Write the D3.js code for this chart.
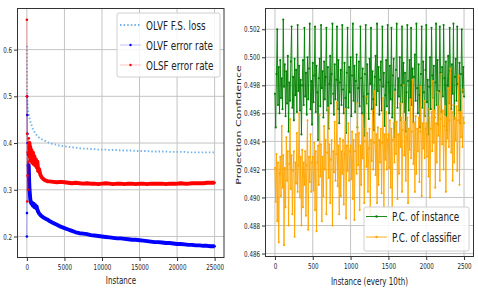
<!DOCTYPE html>
<html><head><meta charset="utf-8">
<script src="https://cdn.jsdelivr.net/npm/d3@7"></script>
<style>body{margin:0;background:#fff}svg{display:block}text{font-family:"DejaVu Sans",sans-serif;fill:#222}</style>
</head><body><svg id="c" width="478" height="288"></svg>
<script>
// ---------- Left chart data ----------
const instL = [0,10,25,50,75,100,150,200,250,300,350,400,450,500,600,700,800,900,1000,1100,1200,1300,1400,1500,1600,1800,2000,2250,2500,2750,3000,
3500,4000,4500,5000,5500,6000,6500,7000,7500,8000,8500,9000,9500,10000,10500,11000,11500,12000,12500,13000,13500,14000,14500,15000,15500,16000,16500,17000,17500,18000,18500,19000,19500,20000,20500,21000,21500,22000,22500,23000,23500,24000,24500,25000];
const fsLoss = [0.608,0.560,0.520,0.495,0.485,0.478,0.470,0.465,0.461,0.457,0.454,0.450,0.447,0.444,0.439,0.434,0.430,0.427,0.424,0.421,0.419,0.417,0.415,0.413,0.412,0.410,0.408,0.406,0.404,0.402,0.400,
0.398,0.396,0.394,0.393,0.392,0.391,0.390,0.389,0.388,0.388,0.387,0.387,0.386,0.386,0.386,0.385,0.385,0.385,0.384,0.384,0.384,0.384,0.383,0.383,0.383,0.383,0.382,0.382,0.382,0.382,0.382,0.381,0.381,0.381,0.381,0.381,0.380,0.380,0.380,0.380,0.380,0.380,0.380,0.380];
const olvfErr = [0.200,0.250,0.500,0.460,0.420,0.400,0.375,0.355,0.350,0.320,0.300,0.290,0.280,0.275,0.270,0.272,0.266,0.270,0.263,0.267,0.261,0.264,0.257,0.253,0.250,0.246,0.243,0.240,0.238,0.236,0.233,
0.229,0.225,0.221,0.218,0.215,0.212,0.209,0.207,0.206,0.205,0.203,0.202,0.201,0.200,0.199,0.198,0.197,0.196,0.196,0.195,0.194,0.193,0.193,0.192,0.191,0.190,0.189,0.188,0.188,0.187,0.186,0.186,0.185,0.184,0.184,0.183,0.182,0.182,0.181,0.181,0.180,0.180,0.179,0.179];
const olsfErr = [0.664,0.500,0.420,0.275,0.330,0.380,0.300,0.360,0.410,0.385,0.400,0.370,0.392,0.362,0.385,0.358,0.380,0.355,0.372,0.352,0.365,0.348,0.360,0.340,0.345,0.332,0.326,0.322,0.320,0.318,0.318,
0.317,0.316,0.317,0.316,0.315,0.314,0.315,0.314,0.313,0.314,0.313,0.313,0.312,0.313,0.314,0.313,0.312,0.313,0.313,0.312,0.313,0.313,0.312,0.313,0.313,0.312,0.313,0.313,0.313,0.313,0.312,0.313,0.313,0.313,0.314,0.313,0.313,0.314,0.314,0.314,0.314,0.315,0.315,0.315];
const xTicksL = [0,5000,10000,15000,20000,25000];
const yTicksL = [0.2,0.3,0.4,0.5,0.6];
const legendL = ["OLVF F.S. loss","OLVF error rate","OLSF error rate"];

// ---------- Right chart data (x = 0..2500, step 10) ----------
const pcInstance = [
0.4974,0.4950,0.4988,0.5020,0.4966,0.4993,0.4960,0.4998,0.4971,0.4985,
0.4963,0.5027,0.4979,0.4995,0.4958,0.4990,0.4967,0.5001,0.4947,0.4982,
0.4969,0.4997,0.5022,0.4964,0.4986,0.4955,0.4999,0.4973,0.4991,0.4961,
0.5023,0.4976,0.4994,0.4962,0.4984,0.4945,0.4980,0.4998,0.4966,0.5021,
0.4972,0.4989,0.4959,0.5000,0.4970,0.4992,0.5024,0.4963,0.4983,0.4952,
0.4996,0.4968,0.4987,0.5022,0.4961,0.4994,0.4975,0.4941,0.4985,0.4999,
0.4965,0.5023,0.4978,0.4990,0.4957,0.4997,0.4970,0.4986,0.5021,0.4962,
0.4993,0.4949,0.4981,0.5001,0.4967,0.4988,0.5024,0.4974,0.4959,0.4995,
0.4970,0.4984,0.5022,0.4963,0.4998,0.4953,0.4982,0.4991,0.4966,0.5023,
0.4977,0.4960,0.4996,0.4971,0.4946,0.4989,0.5021,0.4964,0.4993,0.4975,
0.5000,0.4958,0.4987,0.5024,0.4969,0.4994,0.4961,0.4983,0.5002,0.4950,
0.4978,0.4997,0.4965,0.5022,0.4985,0.4960,0.4992,0.4972,0.4944,0.4988,
0.5023,0.4967,0.4995,0.4974,0.4956,0.4999,0.4981,0.5021,0.4963,0.4990,
0.4970,0.4948,0.4986,0.5001,0.4966,0.5024,0.4976,0.4993,0.4959,0.4984,
0.4997,0.4962,0.5022,0.4979,0.4989,0.4951,0.4973,0.4998,0.4965,0.5023,
0.4982,0.4960,0.4994,0.4970,0.5021,0.4957,0.4987,0.4999,0.4943,0.4977,
0.4991,0.5024,0.4964,0.4985,0.4972,0.5000,0.4955,0.4980,0.5022,0.4968,
0.4996,0.4961,0.4989,0.4947,0.4975,0.5023,0.4983,0.4962,0.4998,0.4971,
0.5021,0.4966,0.4992,0.4954,0.4986,0.5002,0.4969,0.5024,0.4978,0.4960,
0.4995,0.4973,0.4950,0.4988,0.5022,0.4964,0.4997,0.4975,0.4958,0.4991,
0.5023,0.4968,0.4984,0.4945,0.4979,0.5000,0.4963,0.5021,0.4987,0.4971,
0.4994,0.4957,0.4982,0.5024,0.4966,0.4998,0.4952,0.4976,0.5022,0.4989,
0.4961,0.4993,0.4972,0.5023,0.4985,0.4959,0.4997,0.4948,0.4980,0.5001,
0.4967,0.5021,0.4990,0.4963,0.4995,0.4974,0.5024,0.4956,0.4986,0.4999,
0.4969,0.5022,0.4981,0.4962,0.4996,0.4953,0.4988,0.5020,0.4975,0.4993,
0.4972];
const pcClassifier = [
0.4921,0.4897,0.4931,0.4883,0.4925,0.4868,0.4917,0.4929,0.4901,0.4951,
0.4907,0.4930,0.4866,0.4921,0.4893,0.4943,0.4912,0.4933,0.4880,0.4924,
0.4956,0.4906,0.4930,0.4888,0.4919,0.4933,0.4872,0.4925,0.4910,0.4946,
0.4904,0.4923,0.4960,0.4900,0.4929,0.4880,0.4934,0.4893,0.4925,0.4909,
0.4933,0.4887,0.4923,0.4955,0.4877,0.4929,0.4911,0.4945,0.4904,0.4925,
0.4929,0.4905,0.4939,0.4891,0.4933,0.4876,0.4925,0.4937,0.4909,0.4959,
0.4915,0.4938,0.4883,0.4929,0.4901,0.4951,0.4920,0.4941,0.4888,0.4932,
0.4964,0.4914,0.4938,0.4896,0.4927,0.4941,0.4880,0.4933,0.4918,0.4954,
0.4912,0.4931,0.4968,0.4908,0.4937,0.4888,0.4942,0.4901,0.4933,0.4917,
0.4941,0.4895,0.4931,0.4963,0.4885,0.4937,0.4919,0.4953,0.4912,0.4933,
0.4937,0.4913,0.4947,0.4899,0.4941,0.4884,0.4933,0.4945,0.4917,0.4967,
0.4923,0.4946,0.4891,0.4937,0.4909,0.4959,0.4928,0.4949,0.4896,0.4940,
0.4972,0.4922,0.4946,0.4904,0.4935,0.4949,0.4888,0.4941,0.4926,0.4962,
0.4920,0.4939,0.4976,0.4916,0.4945,0.4896,0.4950,0.4909,0.4941,0.4925,
0.4949,0.4903,0.4939,0.4971,0.4893,0.4945,0.4927,0.4961,0.4920,0.4941,
0.4945,0.4921,0.4955,0.4907,0.4949,0.4892,0.4941,0.4953,0.4925,0.4975,
0.4931,0.4954,0.4899,0.4945,0.4917,0.4967,0.4936,0.4957,0.4904,0.4948,
0.4980,0.4930,0.4954,0.4912,0.4943,0.4957,0.4896,0.4949,0.4934,0.4970,
0.4928,0.4947,0.4984,0.4924,0.4953,0.4904,0.4958,0.4917,0.4949,0.4933,
0.4957,0.4911,0.4947,0.4979,0.4901,0.4953,0.4935,0.4969,0.4928,0.4949,
0.4953,0.4929,0.4963,0.4915,0.4957,0.4900,0.4949,0.4961,0.4933,0.4983,
0.4939,0.4962,0.4907,0.4953,0.4925,0.4975,0.4944,0.4965,0.4912,0.4956,
0.4988,0.4938,0.4962,0.4920,0.4951,0.4965,0.4904,0.4957,0.4942,0.4978,
0.4936,0.4955,0.4992,0.4932,0.4961,0.4912,0.4966,0.4925,0.4957,0.4941,
0.4965,0.4919,0.4955,0.4987,0.4909,0.4961,0.4943,0.4977,0.4936,0.4957,
0.4953];
const instR = pcInstance.map((_, i) => i * 10);
const xTicksR = [0,500,1000,1500,2000,2500];
const yTicksR = [0.486,0.488,0.490,0.492,0.494,0.496,0.498,0.500,0.502];
const legendR = ["P.C. of instance","P.C. of classifier"];

// ---------- drawing ----------
const SX = 0.68;
const svg = d3.select("#c");
function txt(x, y, s, size, anchor, rot) {
  return svg.append("text").attr("transform", `translate(${x},${y}) scale(${SX},1)` + (rot ? " rotate(-90)" : ""))
    .attr("text-anchor", anchor).attr("font-size", size).text(s);
}

function panel(box, xDom, yDom, xTicks, yTicks, yFmt) {
  const x = d3.scaleLinear(xDom, [box.l, box.r]);
  const y = d3.scaleLinear(yDom, [box.b, box.t]);
  const g = svg.append("g");
  g.append("g").selectAll("line").data(xTicks).join("line")
    .attr("x1", d => x(d)).attr("x2", d => x(d)).attr("y1", box.t).attr("y2", box.b)
    .attr("stroke", "#c4c4c4").attr("stroke-width", 1);
  g.append("g").selectAll("line").data(yTicks).join("line")
    .attr("y1", d => y(d)).attr("y2", d => y(d)).attr("x1", box.l).attr("x2", box.r)
    .attr("stroke", "#c4c4c4").attr("stroke-width", 1);
  const ax = g.append("g").attr("transform", `translate(0,${box.b})`)
    .call(d3.axisBottom(x).tickValues(xTicks).tickSize(3.5).tickPadding(3).tickFormat(d3.format("d")));
  const ay = g.append("g").attr("transform", `translate(${box.l},0)`)
    .call(d3.axisLeft(y).tickValues(yTicks).tickSize(3.5).tickPadding(2).tickFormat(d3.format(yFmt)));
  [ax, ay].forEach(a => {
    a.select(".domain").remove();
    a.selectAll("line").attr("stroke", "#333");
    a.selectAll("text").attr("font-size", 8.2).attr("font-family", "DejaVu Sans").attr("fill", "#222");
  });
  ax.selectAll("text").attr("transform", `scale(${SX},1)`);
  ay.selectAll("text").attr("transform", `scale(${SX},1)`).attr("x", -5.5 / SX);
  const clipId = "clip" + Math.round(box.l);
  svg.append("clipPath").attr("id", clipId).append("rect")
    .attr("x", box.l).attr("y", box.t).attr("width", box.r - box.l).attr("height", box.b - box.t);
  const data = svg.append("g").attr("clip-path", `url(#${clipId})`);
  const frame = () => svg.append("rect").attr("x", box.l).attr("y", box.t)
    .attr("width", box.r - box.l).attr("height", box.b - box.t)
    .attr("fill", "none").attr("stroke", "#333").attr("stroke-width", 1);
  return { x, y, data, frame };
}

// Left panel
const L = panel({ l: 17.5, r: 224, t: 8.5, b: 257.5 }, [-1250, 26250], [0.155, 0.688], xTicksL, yTicksL, ".1f");
const lineL = (ys, off) => d3.line().x((d, i) => L.x(instL[i + off])).y(d => L.y(d))(ys);
L.data.append("path").attr("d", lineL(fsLoss, 0)).attr("fill", "none")
  .attr("stroke", "#74b3ea").attr("stroke-width", 1.9).attr("stroke-dasharray", "1.5,2.1");
function errSeries(vals, color, denseFrom) {
  L.data.append("path").attr("d", lineL(vals, 0)).attr("fill", "none").attr("stroke", color)
    .attr("stroke-width", 0.6).attr("stroke-opacity", 0.5);
  L.data.append("path").attr("d", lineL(vals.slice(denseFrom), denseFrom))
    .attr("fill", "none").attr("stroke", color).attr("stroke-width", 3.9).attr("stroke-linejoin", "round");
  L.data.append("g").selectAll("circle").data(vals).join("circle")
    .attr("cx", (d, i) => L.x(instL[i])).attr("cy", d => L.y(d)).attr("r", 1.3).attr("fill", color);
}
errSeries(olvfErr, "#0000ff", 7);
errSeries(olsfErr, "#ff0000", 9);
L.frame();

// Right panel
const R = panel({ l: 265.5, r: 473.5, t: 8.5, b: 256.5 }, [-125, 2625], [0.48579, 0.50348], xTicksR, yTicksR, ".3f");
function pcSeries(vals, color) {
  R.data.append("path").attr("d", d3.line().x((d, i) => R.x(instR[i])).y(d => R.y(d))(vals))
    .attr("fill", "none").attr("stroke", color).attr("stroke-width", 1.0).attr("stroke-opacity", 0.9)
    .attr("stroke-linejoin", "round");
  R.data.append("g").selectAll("circle").data(vals).join("circle")
    .attr("cx", (d, i) => R.x(instR[i])).attr("cy", d => R.y(d)).attr("r", 1.05).attr("fill", color);
}
pcSeries(pcInstance, "#008000");
pcSeries(pcClassifier, "#ffa500");
R.frame();

// Axis titles
txt(121, 284, "Instance", 10.5, "middle");
txt(369.5, 284.5, "Instance (every 10th)", 10.5, "middle");
txt(240.5, 125, "Projection Confidence", 11, "middle", true);

// Left legend
svg.append("rect").attr("x", 117).attr("y", 13).attr("width", 103).attr("height", 64).attr("rx", 2)
  .attr("fill", "#fff").attr("fill-opacity", 0.85).attr("stroke", "#d0d0d0");
const lgY = [25, 45, 65];
svg.append("line").attr("x1", 120).attr("x2", 141).attr("y1", lgY[0]).attr("y2", lgY[0])
  .attr("stroke", "#74b3ea").attr("stroke-width", 1.9).attr("stroke-dasharray", "1.5,2.1");
[["#0000ff", 1], ["#ff0000", 2]].forEach(([c, k]) => {
  svg.append("line").attr("x1", 120).attr("x2", 141).attr("y1", lgY[k]).attr("y2", lgY[k])
    .attr("stroke", c).attr("stroke-width", 0.6).attr("stroke-opacity", 0.4);
  svg.append("circle").attr("cx", 130.5).attr("cy", lgY[k]).attr("r", 1.2).attr("fill", c);
});
legendL.forEach((s, i) => txt(146, lgY[i] + 4.6, s, 13, "start"));

// Right legend
svg.append("rect").attr("x", 364).attr("y", 207).attr("width", 105).attr("height", 44).attr("rx", 2)
  .attr("fill", "#fff").attr("fill-opacity", 0.85).attr("stroke", "#d0d0d0");
const lgRY = [216.5, 237];
[["#008000", 0], ["#ffa500", 1]].forEach(([c, k]) => {
  svg.append("line").attr("x1", 366).attr("x2", 387).attr("y1", lgRY[k]).attr("y2", lgRY[k])
    .attr("stroke", c).attr("stroke-width", 0.9);
  svg.append("circle").attr("cx", 376.5).attr("cy", lgRY[k]).attr("r", 1.2).attr("fill", c);
});
legendR.forEach((s, i) => txt(392, lgRY[i] + 4.6, s, 13, "start"));
</script></body></html>
